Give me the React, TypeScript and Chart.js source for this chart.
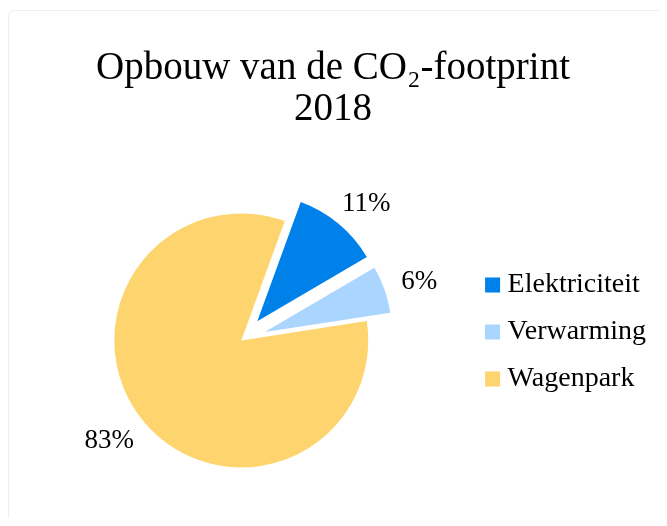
import React, { useEffect, useRef } from 'react';
import { Chart, registerables } from 'chart.js';

Chart.register(...registerables);

const categories = ['Elektriciteit', 'Verwarming', 'Wagenpark'];
const shares = [11, 6, 83];
const explode = [100, 100, 0];
const sliceColors = ['#0081E9', '#A9D5FE', '#FDD46E'];
const titleLines = ['Opbouw van de CO₂-footprint', '2018'];

const SERIF = "'Liberation Serif', 'DejaVu Serif', serif";
const LABEL_SIZE = 27;

// Keeps exploded slices at the same radius / angle as unexploded ones and writes outside-end labels.
const pieHelpers = {
  id: 'pieHelpers',
  beforeDatasetsDraw(chart: any) {
    chart.getDatasetMeta(0).data.forEach((el: any) => {
      const off = (el.options.offset || 0) / 4;
      const fix = 1 - Math.sin(Math.min(Math.PI, el.circumference || 0));
      const ro = off * fix;
      const R = el.outerRadius;
      el.$saved = { R, s: el.startAngle, e: el.endAngle };
      el.outerRadius = R - ro;
      if (ro > 0 && R > 0) {
        const widen = ro / (Math.PI * R) / 2;
        el.startAngle = el.startAngle - widen;
        el.endAngle = el.endAngle + widen;
      }
    });
  },
  afterDatasetsDraw(chart: any) {
    const meta = chart.getDatasetMeta(0);
    const ctx = chart.ctx;
    const total = shares.reduce((a, b) => a + b, 0);
    ctx.save();
    ctx.font = `${LABEL_SIZE}px ${SERIF}`;
    ctx.fillStyle = '#000';
    ctx.textAlign = 'center';
    ctx.textBaseline = 'alphabetic';
    meta.data.forEach((el: any, i: number) => {
      if (el.$saved) {
        el.outerRadius = el.$saved.R;
        el.startAngle = el.$saved.s;
        el.endAngle = el.$saved.e;
      }
      const mid = (el.startAngle + el.endAngle) / 2;
      const off = (el.options.offset || 0) / 4;
      const c = Math.cos(mid);
      const s = Math.sin(mid);
      const text = Math.round((shares[i] / total) * 100) + '%';
      const w = ctx.measureText(text).width;
      const h = LABEL_SIZE * 0.66;
      const gap = 19;
      const R = el.outerRadius;
      const cx = el.x + c * (off + R + gap) + (c * w) / 2;
      const cy = el.y + s * (off + R + gap) + (s * h) / 2;
      ctx.fillText(text, cx, cy + h / 2);
    });
    ctx.restore();
  },
};

export default function App() {
  const ref = useRef<HTMLCanvasElement | null>(null);

  useEffect(() => {
    if (!ref.current) return;
    const chart = new Chart(ref.current, {
      type: 'pie',
      data: {
        labels: categories,
        datasets: [
          {
            data: shares,
            backgroundColor: sliceColors,
            borderWidth: 0,
            offset: explode,
            radius: 127,
            rotation: 20,
          } as any,
        ],
      },
      plugins: [pieHelpers],
      options: {
        responsive: true,
        maintainAspectRatio: false,
        animation: false,
        events: [],
        layout: { padding: { left: 2, right: 3, top: 0, bottom: 0 } },
        plugins: {
          tooltip: { enabled: false },
          title: {
            display: true,
            text: titleLines,
            color: '#000',
            font: { family: SERIF, size: 39, weight: 'normal', lineHeight: 1.05 },
            padding: { top: 40, bottom: 33 },
          },
          legend: {
            position: 'right',
            align: 'start',
            fullSize: false,
            title: {
              display: true,
              text: '',
              font: { size: 10, lineHeight: 1 },
              padding: { top: 79, bottom: 0 },
            },
            labels: {
              usePointStyle: true,
              pointStyle: 'rect',
              boxWidth: 2,
              boxHeight: 15,
              padding: 19,
              color: '#000',
              font: { family: SERIF, size: 28 },
            },
          },
        },
      } as any,
    });
    return () => chart.destroy();
  }, []);

  return (
    <div style={{ position: 'relative', width: 651, height: 510, overflow: 'hidden' }}>
      <div
        style={{
          position: 'absolute',
          left: 0,
          top: 2,
          width: 700,
          height: 600,
          border: '1px solid #efefef',
          borderRadius: 6,
          boxSizing: 'border-box',
        }}
      />
      <div style={{ position: 'absolute', left: 0, top: 0, width: 651, height: 510 }}>
        <canvas ref={ref} />
      </div>
    </div>
  );
}
